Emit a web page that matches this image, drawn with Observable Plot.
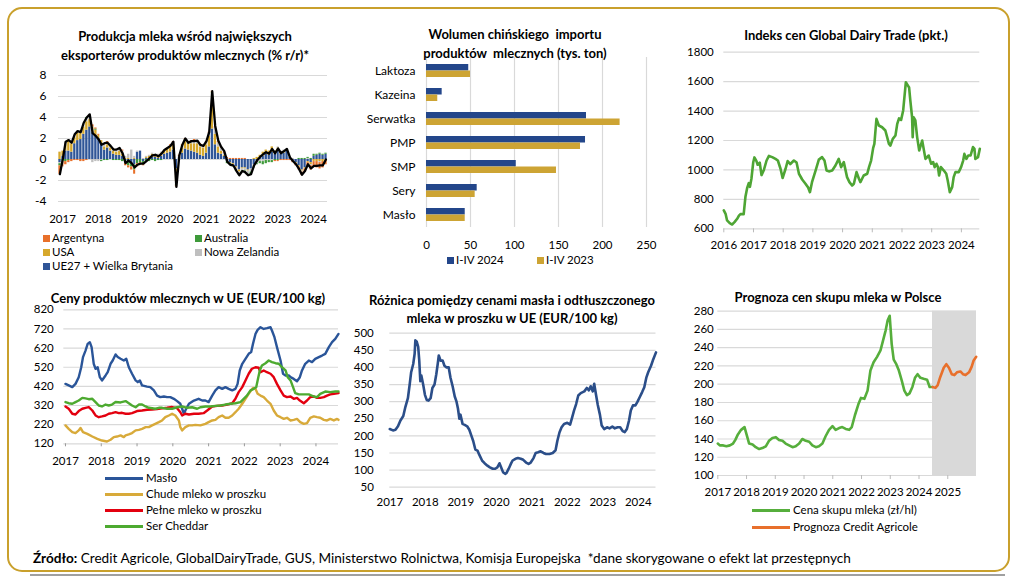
<!DOCTYPE html>
<html><head><meta charset="utf-8">
<script src="https://cdn.jsdelivr.net/npm/d3@7"></script>
<script src="https://cdn.jsdelivr.net/npm/@observablehq/plot@0.6"></script>
<style>
body{margin:0;background:#fff;font-family:Lato,'Open Sans',sans-serif;color:#000}
#page{position:relative;width:1018px;height:577px;overflow:hidden;background:#fff}
.frame{position:absolute;left:7px;top:7px;width:1003px;height:565px;border:2px solid #C9A02C;border-radius:15px;box-sizing:border-box}
.shadow{position:absolute;left:30px;top:574px;width:975px;height:2px;background:#a0a0a0}
.title{position:absolute;font-weight:bold;font-size:13px;text-align:center;line-height:19px;white-space:nowrap}
.leg{position:absolute;font-size:11.5px;line-height:14px;white-space:nowrap}
.sw{position:absolute;width:7px;height:7px}
.ln{position:absolute;height:3px}
.foot{position:absolute;left:33px;top:550px;font-size:13.6px;white-space:nowrap}
</style></head>
<body><div id="page"><div class="frame"></div><div class="shadow"></div></div>
<script>
// ---------- DATA ----------
// Panel 1: milk production y/y (%), monthly Jan 2017 - Jun 2024
const p1Series = ["UE27 + Wielka Brytania","USA","Nowa Zelandia","Australia","Argentyna"];
const p1Colors = ["#2F5597","#D6A82C","#BFBFBF","#3E9A3A","#E8702A"];
const ue27 = [-0.3,0.3,0.8,0.8,0.7,1.5,1.8,1.9,2.4,2.8,3.1,2.6,
 2.3,2.0,1.5,0.9,1.1,0.8,0.5,0.4,0.4,0.3,-0.1,-0.3,
 -0.3,-0.5,0.7,0.8,-0.2,0.1,0.1,0.2,0.2,0.1,0.3,0.5,
 0.6,0.7,0.9,-0.9,0.2,0.6,1.0,0.9,0.8,0.7,0.6,0.4,
 0.3,0.6,1.2,2.9,1.4,0.6,0.5,0.3,-0.2,-0.3,-0.4,-0.7,
 -1.0,-0.8,-0.8,-1.0,-0.9,-0.5,-0.2,0.1,0.3,0.5,0.4,0.7,
 0.5,0.8,0.5,0.6,0.8,0.2,-0.1,-0.3,-0.6,-1.0,-0.8,-0.2,
 -0.3,0.3,0.4,0.5,0.4,0.5];
const usa = [0.7,0.5,0.6,1.0,0.8,0.6,0.7,0.6,0.7,0.8,0.7,0.5,
 0.5,0.3,0.3,0.3,0.3,0.3,0.3,0.3,0.4,0.2,0.1,0.1,
 0.0,0.1,0.0,0.0,0.0,0.1,0.2,0.3,0.2,0.3,0.3,0.3,
 0.4,0.5,0.6,-1.2,0.0,0.5,0.7,0.6,0.7,0.8,0.9,0.8,
 0.8,0.8,1.0,2.4,1.0,0.6,0.3,0.1,0.0,-0.1,-0.1,-0.1,
 -0.2,-0.1,-0.1,-0.1,0.0,0.1,0.2,0.3,0.4,0.4,0.4,0.5,
 0.3,0.3,0.2,0.2,0.1,0.0,0.0,-0.1,-0.1,-0.1,-0.1,-0.1,
 -0.2,-0.2,-0.2,-0.2,-0.2,-0.1];
const nowaZelandia = [-0.1,0.0,0.2,0.1,0.1,0.2,0.2,0.1,0.3,0.3,0.2,-0.3,
 -0.2,-0.2,-0.1,0.2,0.2,0.2,0.2,0.1,0.3,0.3,0.2,0.4,
 0.9,0.2,0.1,0.0,0.1,0.1,0.1,0.1,0.1,0.1,0.1,0.1,
 0.1,0.1,0.1,-0.3,0.1,0.1,0.1,0.0,0.1,0.2,0.1,0.1,
 0.1,0.2,0.3,1.0,0.6,0.4,0.3,0.2,0.1,0.0,-0.1,-0.2,
 -0.2,-0.2,-0.2,-0.3,-0.3,-0.2,-0.2,-0.2,-0.2,-0.1,-0.1,-0.1,
 0.0,0.1,0.1,0.1,0.1,0.1,0.1,0.0,0.0,-0.1,0.0,0.1,
 -0.1,0.0,0.0,-0.1,0.0,0.0];
const australia = [-0.2,-0.2,-0.2,-0.1,0.0,0.0,0.0,0.0,0.0,0.1,0.1,0.0,
 0.1,0.0,-0.1,-0.1,-0.1,0.0,-0.1,-0.1,-0.1,-0.2,-0.3,-0.3,
 -0.4,-0.5,-0.4,-0.3,-0.3,-0.2,-0.2,-0.1,-0.2,-0.1,-0.1,0.0,
 0.0,0.0,0.0,-0.1,0.0,0.1,0.1,0.1,0.1,0.1,0.1,0.1,
 0.0,0.0,0.0,0.1,0.0,0.0,0.0,0.0,-0.2,-0.1,-0.1,-0.1,
 -0.1,-0.1,-0.1,-0.1,-0.2,-0.1,-0.1,-0.2,-0.3,-0.3,-0.2,-0.2,
 -0.1,-0.1,0.0,0.0,0.0,0.0,0.0,0.0,0.1,0.1,0.1,0.1,
 0.1,0.2,0.1,0.1,0.1,0.1];
const argentyna = [-0.8,-0.5,-0.3,-0.2,-0.2,-0.1,-0.1,-0.2,-0.2,-0.1,0.1,0.2,
 0.1,0.1,0.0,0.1,0.1,0.0,0.0,0.0,0.0,0.1,-0.2,-0.2,
 -0.3,-0.4,-0.3,-0.2,-0.1,0.0,0.0,0.0,0.0,0.0,0.0,0.0,
 0.0,0.1,0.1,-0.1,0.1,0.1,0.1,0.1,0.1,0.1,0.1,0.1,
 0.1,0.1,0.1,0.1,0.1,0.1,0.1,0.1,0.1,0.1,0.1,0.1,
 0.1,0.1,0.1,0.0,0.0,0.0,0.0,0.0,0.0,0.0,0.0,0.0,
 -0.1,-0.1,-0.1,-0.1,-0.1,-0.1,-0.2,-0.2,-0.3,-0.3,-0.3,-0.3,
 -0.4,-0.5,-0.6,-0.6,-0.6,-0.4];
const p1Total = [-1.4,0.1,1.7,1.85,1.6,2.4,2.7,2.6,3.5,4.0,4.3,2.5,
 2.25,1.9,1.4,1.55,1.6,1.3,0.95,0.95,1.1,0.6,-0.35,-0.1,
 -0.35,-0.75,-0.5,-0.4,-0.4,-0.15,0.1,0.4,0.45,0.3,0.55,0.9,
 1.1,1.3,1.7,-2.6,0.4,1.4,2.0,1.6,1.75,1.75,1.8,1.4,
 1.3,1.75,2.6,6.5,3.2,1.8,1.2,0.8,-0.2,-0.5,-0.55,-1.05,
 -1.5,-1.1,-1.2,-1.5,-1.4,-0.55,-0.1,0.25,0.5,0.7,0.55,1.0,
 0.6,1.05,0.6,0.8,1.0,0.2,-0.15,-0.45,-0.9,-1.45,-1.1,-0.45,
 -0.85,-0.6,-0.6,-0.55,-0.55,0.0];
const p1YTicks = [-4,-2,0,2,4,6,8];
const p1Years = [2017,2018,2019,2020,2021,2022,2023,2024];

// Panel 2: Chinese imports (thousand t)
const chinaCategories = ["Laktoza","Kazeina","Serwatka","PMP","SMP","Sery","Masło"];
const import2024 = [48,17.8,181.8,180.7,102,57.6,44];
const import2023 = [50,12.8,220,175,147.7,55.3,44];
const chinaTicks = [0,50,100,150,200,250];

// Panel 3: Global Dairy Trade index
const gdtYear = [2016.00,2016.06,2016.11,2016.20,2016.28,2016.36,2016.45,2016.51,2016.56,2016.67,2016.73,2016.79,2016.84,2016.88,2016.93,2016.99,
 2017.03,2017.10,2017.14,2017.21,2017.27,2017.35,2017.44,2017.52,2017.63,2017.74,2017.82,2017.91,2017.98,
 2018.08,2018.15,2018.24,2018.36,2018.45,2018.53,2018.64,2018.75,2018.84,2018.90,2018.97,
 2019.09,2019.20,2019.31,2019.39,2019.46,2019.54,2019.65,2019.76,2019.87,2019.95,
 2020.04,2020.15,2020.23,2020.32,2020.38,2020.47,2020.55,2020.60,2020.71,2020.83,2020.89,2020.96,
 2021.03,2021.07,2021.14,2021.22,2021.33,2021.44,2021.50,2021.56,2021.61,2021.69,2021.78,2021.84,2021.90,2021.97,
 2022.04,2022.13,2022.20,2022.24,2022.28,2022.34,2022.36,2022.39,2022.45,2022.51,2022.58,2022.68,2022.79,2022.90,2022.98,
 2023.05,2023.10,2023.16,2023.21,2023.25,2023.31,2023.41,2023.49,2023.54,2023.61,2023.69,2023.74,2023.80,2023.91,2023.99,
 2024.06,2024.10,2024.17,2024.23,2024.31,2024.39,2024.44,2024.47,2024.56,2024.62];
const gdtValue = [725,702,657,638,629,645,668,690,700,700,820,880,910,885,940,1050,
 1085,1060,1035,1050,965,1000,1064,1095,1087,1075,1064,1008,945,
 1008,1060,1040,1064,1050,974,935,906,880,849,917,
 996,1070,1087,1064,996,990,996,1030,1075,1019,
 1053,951,917,894,906,985,940,917,962,974,1019,1064,
 1150,1177,1347,1302,1290,1268,1223,1177,1166,1211,1234,1313,1350,1340,
 1404,1596,1573,1560,1472,1358,1223,1358,1336,1223,1132,1200,1075,1098,1042,
 1053,1019,1042,1019,962,1019,996,974,928,849,883,951,985,985,1019,
 1064,1109,1075,1098,1098,1155,1143,1075,1087,1143];
const gdtYTicks = [600,800,1000,1200,1400,1600,1800];
const gdtYears = [2016,2017,2018,2019,2020,2021,2022,2023,2024];

// Panel 4: EU dairy prices (EUR/100 kg), [year, value]
const maslo = [[2017.00,433],[2017.09,425],[2017.19,416],[2017.28,433],[2017.37,468],[2017.44,520],[2017.49,573],[2017.56,607],[2017.62,642],[2017.68,651],[2017.73,625],[2017.79,538],[2017.84,512],[2017.90,520],[2017.96,468],[2018.02,451],[2018.12,477],[2018.18,494],[2018.26,538],[2018.32,555],[2018.40,587],[2018.46,573],[2018.54,564],[2018.63,555],[2018.70,564],[2018.77,520],[2018.86,486],[2018.96,451],[2019.02,442],[2019.08,451],[2019.14,425],[2019.28,419],[2019.37,416],[2019.47,399],[2019.56,372],[2019.65,364],[2019.75,367],[2019.84,364],[2019.93,364],[2020.03,355],[2020.12,343],[2020.21,329],[2020.26,303],[2020.31,277],[2020.35,294],[2020.45,329],[2020.59,346],[2020.72,355],[2020.82,346],[2020.91,346],[2021.00,338],[2021.10,372],[2021.19,399],[2021.28,416],[2021.38,407],[2021.47,416],[2021.56,407],[2021.66,399],[2021.75,407],[2021.81,433],[2021.87,503],[2021.94,538],[2022.03,564],[2022.12,590],[2022.19,599],[2022.24,642],[2022.31,694],[2022.37,715],[2022.45,729],[2022.54,720],[2022.63,724],[2022.73,729],[2022.77,712],[2022.84,677],[2022.91,625],[2023.01,555],[2023.08,486],[2023.15,477],[2023.24,477],[2023.29,468],[2023.38,459],[2023.47,447],[2023.55,468],[2023.61,503],[2023.70,538],[2023.80,555],[2023.89,547],[2023.98,564],[2024.08,573],[2024.17,581],[2024.26,590],[2024.36,625],[2024.45,651],[2024.54,668],[2024.63,694]];
const chudeMleko = [[2017.00,216],[2017.09,198],[2017.19,181],[2017.28,176],[2017.37,190],[2017.42,203],[2017.49,181],[2017.61,172],[2017.75,158],[2017.89,146],[2018.02,137],[2018.16,132],[2018.26,141],[2018.35,155],[2018.44,158],[2018.54,164],[2018.63,155],[2018.68,164],[2018.77,169],[2018.86,176],[2018.96,190],[2019.05,193],[2019.14,198],[2019.24,207],[2019.33,207],[2019.42,216],[2019.51,224],[2019.61,233],[2019.70,242],[2019.79,259],[2019.89,268],[2019.98,277],[2020.07,268],[2020.17,242],[2020.21,207],[2020.26,190],[2020.35,207],[2020.45,216],[2020.54,216],[2020.63,219],[2020.77,216],[2020.91,224],[2021.00,233],[2021.10,242],[2021.19,245],[2021.28,259],[2021.38,268],[2021.47,256],[2021.56,256],[2021.66,268],[2021.75,285],[2021.84,303],[2021.94,329],[2022.03,355],[2022.12,381],[2022.19,399],[2022.24,412],[2022.31,407],[2022.37,381],[2022.45,372],[2022.54,364],[2022.63,346],[2022.73,329],[2022.82,294],[2022.91,268],[2023.01,259],[2023.10,250],[2023.19,256],[2023.29,242],[2023.38,245],[2023.47,250],[2023.56,233],[2023.66,224],[2023.75,228],[2023.84,256],[2023.94,263],[2024.03,259],[2024.12,256],[2024.22,245],[2024.31,242],[2024.40,250],[2024.50,242],[2024.59,250],[2024.63,245]];
const pelneMleko = [[2017.00,315],[2017.09,303],[2017.19,277],[2017.28,273],[2017.37,291],[2017.47,303],[2017.56,308],[2017.65,312],[2017.75,294],[2017.84,268],[2017.93,259],[2018.02,263],[2018.12,268],[2018.21,277],[2018.30,280],[2018.40,285],[2018.49,280],[2018.58,282],[2018.68,277],[2018.77,277],[2018.86,280],[2019.00,291],[2019.14,294],[2019.28,298],[2019.42,299],[2019.56,301],[2019.70,305],[2019.84,308],[2019.98,312],[2020.12,306],[2020.21,285],[2020.26,268],[2020.35,277],[2020.45,273],[2020.59,277],[2020.72,277],[2020.86,280],[2020.96,294],[2021.10,315],[2021.24,318],[2021.38,320],[2021.52,325],[2021.66,332],[2021.75,355],[2021.84,390],[2021.94,416],[2022.03,451],[2022.12,486],[2022.21,512],[2022.31,520],[2022.40,517],[2022.45,494],[2022.54,503],[2022.63,494],[2022.73,486],[2022.82,468],[2022.91,433],[2023.01,399],[2023.10,372],[2023.19,364],[2023.29,367],[2023.38,355],[2023.47,360],[2023.55,346],[2023.66,332],[2023.75,346],[2023.84,364],[2023.94,367],[2024.03,360],[2024.12,360],[2024.22,364],[2024.31,372],[2024.40,378],[2024.50,381],[2024.63,385]];
const serCheddar = [[2017.00,338],[2017.09,332],[2017.19,329],[2017.28,338],[2017.37,346],[2017.47,360],[2017.56,357],[2017.65,353],[2017.75,355],[2017.84,338],[2017.93,320],[2018.02,315],[2018.12,325],[2018.21,320],[2018.30,325],[2018.40,338],[2018.54,336],[2018.68,343],[2018.77,332],[2018.86,320],[2018.96,311],[2019.05,325],[2019.14,325],[2019.24,315],[2019.33,308],[2019.42,306],[2019.51,303],[2019.61,308],[2019.70,308],[2019.84,303],[2019.98,303],[2020.12,311],[2020.26,315],[2020.40,308],[2020.54,311],[2020.68,303],[2020.77,311],[2020.91,315],[2021.05,315],[2021.19,318],[2021.33,320],[2021.47,325],[2021.61,329],[2021.75,332],[2021.89,338],[2021.98,355],[2022.07,372],[2022.17,399],[2022.26,407],[2022.33,416],[2022.37,451],[2022.43,503],[2022.49,529],[2022.59,541],[2022.68,555],[2022.77,547],[2022.87,541],[2022.96,538],[2023.05,520],[2023.15,503],[2023.21,468],[2023.29,451],[2023.36,416],[2023.42,385],[2023.52,378],[2023.66,378],[2023.80,378],[2023.94,367],[2024.03,364],[2024.12,381],[2024.26,393],[2024.40,390],[2024.54,393],[2024.63,393]];
const p4Names = ["Masło","Chude mleko w proszku","Pełne mleko w proszku","Ser Cheddar"];
const p4Colors = ["#2A5599","#D8AA3A","#E3000F","#4DAA30"];
const p4YTicks = [120,220,320,420,520,620,720,820];
const p4Years = [2017,2018,2019,2020,2021,2022,2023,2024];

// Panel 5: butter - SMP spread (EUR/100 kg)
const spread = [[2017.00,220],[2017.09,216],[2017.16,218],[2017.23,228],[2017.30,245],[2017.38,258],[2017.44,285],[2017.51,310],[2017.56,350],[2017.60,385],[2017.66,410],[2017.70,440],[2017.72,479],[2017.76,475],[2017.80,460],[2017.83,420],[2017.86,360],[2017.89,376],[2017.94,350],[2017.99,320],[2018.04,305],[2018.09,303],[2018.15,310],[2018.20,340],[2018.26,350],[2018.31,380],[2018.35,410],[2018.38,435],[2018.43,420],[2018.49,420],[2018.54,405],[2018.60,400],[2018.66,400],[2018.71,370],[2018.77,345],[2018.83,315],[2018.88,300],[2018.92,280],[2018.96,250],[2018.99,262],[2019.05,235],[2019.11,232],[2019.18,228],[2019.24,218],[2019.30,200],[2019.35,185],[2019.41,160],[2019.47,157],[2019.52,145],[2019.60,128],[2019.67,120],[2019.75,113],[2019.82,108],[2019.90,104],[2019.97,104],[2020.03,108],[2020.09,120],[2020.13,110],[2020.19,94],[2020.25,89],[2020.29,92],[2020.35,104],[2020.41,118],[2020.46,128],[2020.54,133],[2020.61,135],[2020.69,133],[2020.76,130],[2020.84,122],[2020.91,118],[2020.97,122],[2021.05,135],[2021.11,150],[2021.18,152],[2021.25,155],[2021.33,150],[2021.40,147],[2021.50,147],[2021.59,150],[2021.67,158],[2021.72,185],[2021.78,210],[2021.84,225],[2021.91,235],[2022.00,238],[2022.08,233],[2022.14,255],[2022.19,274],[2022.25,293],[2022.31,318],[2022.38,325],[2022.48,330],[2022.55,340],[2022.61,333],[2022.66,345],[2022.72,330],[2022.76,352],[2022.81,320],[2022.86,290],[2022.92,262],[2022.97,230],[2023.04,220],[2023.12,225],[2023.19,222],[2023.27,227],[2023.34,222],[2023.42,225],[2023.49,225],[2023.56,214],[2023.62,211],[2023.68,220],[2023.74,245],[2023.79,274],[2023.85,289],[2023.92,289],[2023.98,300],[2024.04,313],[2024.11,328],[2024.17,342],[2024.23,371],[2024.28,386],[2024.36,405],[2024.41,420],[2024.50,444]];
const spreadYTicks = [50,100,150,200,250,300,350,400,450,500];
const spreadYears = [2017,2018,2019,2020,2021,2022,2023,2024];

// Panel 6: Polish milk purchase price (PLN/hl) and forecast
const cenaSkupu = [[2017.00,135],[2017.07,133],[2017.19,133],[2017.30,132],[2017.42,133],[2017.53,135],[2017.61,139],[2017.70,145],[2017.81,150],[2017.93,153],[2018.00,145],[2018.09,135],[2018.21,134],[2018.32,131],[2018.44,129],[2018.55,130],[2018.67,132],[2018.78,138],[2018.90,141],[2019.02,142],[2019.13,139],[2019.25,138],[2019.36,135],[2019.48,133],[2019.60,131],[2019.71,132],[2019.83,135],[2019.94,140],[2020.06,138],[2020.18,137],[2020.29,133],[2020.41,131],[2020.52,132],[2020.64,135],[2020.75,143],[2020.87,150],[2020.99,154],[2021.10,150],[2021.22,152],[2021.33,153],[2021.45,151],[2021.57,150],[2021.66,153],[2021.77,166],[2021.89,178],[2021.98,185],[2022.10,184],[2022.21,193],[2022.31,215],[2022.42,224],[2022.54,230],[2022.66,237],[2022.75,248],[2022.84,259],[2022.91,270],[2022.98,275],[2023.05,244],[2023.12,227],[2023.21,222],[2023.30,215],[2023.40,204],[2023.49,193],[2023.58,188],[2023.67,190],[2023.77,197],[2023.86,207],[2023.95,211],[2024.05,207],[2024.16,206],[2024.28,205],[2024.37,197],[2024.47,197]];
const prognoza = [[2024.47,197],[2024.57,196],[2024.65,199],[2024.74,208],[2024.86,218],[2024.95,222],[2025.04,218],[2025.14,211],[2025.23,210],[2025.32,213],[2025.44,214],[2025.53,211],[2025.62,210],[2025.74,213],[2025.83,219],[2025.90,226],[2025.99,230]];
const forecastPeriod = [{start: 2024.47, end: 2026}];
const p6YTicks = [100,120,140,160,180,200,220,240,260,280];
const p6Years = [2017,2018,2019,2020,2021,2022,2023,2024,2025];

// ---------- HELPERS ----------
const page = document.getElementById("page");
const FONT = "Lato, 'Open Sans', sans-serif";
const GRID = "#d9d9d9";
const baseStyle = {fontFamily: FONT, fontSize: "11px", color: "#000", background: "transparent", overflow: "visible"};
function place(el, left, top){ el.style.position="absolute"; el.style.left=left+"px"; el.style.top=top+"px"; page.appendChild(el); }
function title(lines, cx, top, lh){
  const d=document.createElement("div"); d.className="title";
  d.style.width="400px"; d.style.left=(cx-200)+"px"; d.style.top=top+"px"; if(lh) d.style.lineHeight=lh+"px";
  d.innerHTML=lines.join("<br>"); page.appendChild(d);
}
function legSwatch(text, color, x, cy){
  const s=document.createElement("div"); s.className="sw"; s.style.background=color; s.style.left=x+"px"; s.style.top=(cy-3.5)+"px"; page.appendChild(s);
  const t=document.createElement("div"); t.className="leg"; t.textContent=text; t.style.left=(x+9)+"px"; t.style.top=(cy-7.5)+"px"; page.appendChild(t);
}
function legLine(text, color, x1, x2, cy){
  const s=document.createElement("div"); s.className="ln"; s.style.background=color; s.style.left=x1+"px"; s.style.width=(x2-x1)+"px"; s.style.top=(cy-1.5)+"px"; page.appendChild(s);
  const t=document.createElement("div"); t.className="leg"; t.textContent=text; t.style.left=(x2+3)+"px"; t.style.top=(cy-7.5)+"px"; page.appendChild(t);
}
const fmtNum = d => String(d);

// ---------- PANEL 1 ----------
const months = d3.utcMonth.range(new Date(Date.UTC(2017,0,1)), new Date(Date.UTC(2024,6,1)));
const p1Arrays = [ue27, usa, nowaZelandia, australia, argentyna];
const p1Rows = p1Series.flatMap((s,k)=>months.map((d,i)=>({date:d, value:p1Arrays[k][i], series:s})));
const p1Line = months.map((d,i)=>({date:d3.utcDay.offset(d,14), value:p1Total[i]}));
const p1 = Plot.plot({
  width:340, height:175, marginLeft:58, marginRight:13, marginTop:15, marginBottom:34,
  style: baseStyle,
  x:{type:"utc", domain:[new Date(Date.UTC(2017,0,1)), new Date(Date.UTC(2024,6,1))]},
  y:{domain:[-4,8]},
  color:{domain:p1Series, range:p1Colors},
  marks:[
    Plot.ruleY(p1YTicks,{stroke:GRID, strokeWidth:1.2}),
    Plot.rectY(p1Rows,{x:"date", interval:d3.utcMonth, y:"value", fill:"series", order:p1Series, insetLeft:0.35, insetRight:0.35}),
    Plot.line(p1Line,{x:"date", y:"value", stroke:"#000", strokeWidth:2.3}),
    Plot.axisY({ticks:p1YTicks, tickFormat:fmtNum, tickSize:0, tickPadding:12, label:null, fontSize:12}),
    Plot.axisX({ticks:p1Years.map(y=>new Date(Date.UTC(y,0,1))), tickFormat:"%Y", tickSize:0, tickPadding:13, dx:4, label:null, fontSize:11.5})
  ]
});
place(p1,0,60);
title(["Produkcja mleka wśród największych","eksporterów produktów mlecznych (% r/r)*"],185,26.5,19);
legSwatch("Argentyna","#E8702A",43,238);
legSwatch("Australia","#3E9A3A",195,238);
legSwatch("USA","#D6A82C",43,252);
legSwatch("Nowa Zelandia","#BFBFBF",195,252);
legSwatch("UE27 + Wielka Brytania","#2F5597",43,266);

// ---------- PANEL 2 ----------
const p2 = Plot.plot({
  width:340, height:205, marginLeft:86, marginRight:34, marginTop:7, marginBottom:28,
  style: baseStyle,
  x:{domain:[0,250]},
  y:{domain:chinaCategories, paddingInner:0.466, paddingOuter:0.233},
  marks:[
    Plot.ruleX(chinaTicks,{stroke:GRID, strokeWidth:1.2}),
    Plot.barX(chinaCategories,{y:d=>d, x:(d,i)=>import2024[i], fill:"#23468A", insetBottom:6.5}),
    Plot.barX(chinaCategories,{y:d=>d, x:(d,i)=>import2023[i], fill:"#CDA434", insetTop:6.5}),
    Plot.axisX({ticks:chinaTicks, tickFormat:fmtNum, tickSize:0, tickPadding:13, label:null, fontSize:11.5}),
    Plot.axisY({tickSize:0, tickPadding:11, label:null, fontSize:12})
  ]
});
place(p2,340,50);
title(["Wolumen chińskiego&nbsp; importu","produktów&nbsp; mlecznych (tys. ton)"],515,24.5,19);
legSwatch("I-IV 2024","#23468A",447,260);
legSwatch("I-IV 2023","#CDA434",537,260);

// ---------- PANEL 3 ----------
const gdtRows = gdtYear.map((y,i)=>({year:y, value:gdtValue[i]}));
const p3 = Plot.plot({
  width:338, height:220, marginLeft:43.3, marginRight:38.7, marginTop:11.7, marginBottom:31.7,
  style: baseStyle,
  x:{domain:[2016, 2024.62]},
  y:{domain:[600,1800]},
  marks:[
    Plot.ruleY(gdtYTicks,{stroke:GRID, strokeWidth:1.2}),
    Plot.line(gdtRows,{x:"year", y:"value", stroke:"#4EA534", strokeWidth:2.6}),
    Plot.axisY({ticks:gdtYTicks, tickFormat:fmtNum, tickSize:0, tickPadding:10, label:null, fontSize:11.5}),
    Plot.axisX({ticks:gdtYears, tickFormat:fmtNum, tickSize:4, tickPadding:8, stroke:"#bbb", label:null, fontSize:11.5})
  ]
});
place(p3,680,40);
title(["Indeks cen Global Dairy Trade (pkt.)"],846,25.5);

// ---------- PANEL 4 ----------
const p4Data = [maslo, chudeMleko, pelneMleko, serCheddar];
const p4 = Plot.plot({
  width:340, height:170, marginLeft:63.3, marginRight:2, marginTop:9.3, marginBottom:26.7,
  style: baseStyle,
  x:{domain:[2016.953, 2024.63]},
  y:{domain:[120,820]},
  marks:[
    Plot.ruleY(p4YTicks,{stroke:GRID, strokeWidth:1.2}),
    ...p4Data.map((s,k)=>Plot.line(s,{x:d=>d[0], y:d=>d[1], stroke:p4Colors[k], strokeWidth:2.4})),
    Plot.axisY({ticks:p4YTicks, tickFormat:fmtNum, tickSize:0, tickPadding:10, label:null, fontSize:11.5}),
    Plot.axisX({ticks:p4Years, tickFormat:fmtNum, tickSize:3, tickPadding:10, stroke:"#999", label:null, fontSize:11.5})
  ]
});
place(p4,0,300);
title(["Ceny produktów mlecznych w UE (EUR/100 kg)"],188,288.5);
p4Names.forEach((n,k)=>legLine(n,p4Colors[k],105,143,478+k*16.2));

// ---------- PANEL 5 ----------
const p5 = Plot.plot({
  width:340, height:190, marginLeft:49.3, marginRight:24.5, marginTop:7.7, marginBottom:28.3,
  style: baseStyle,
  x:{domain:[2017, 2024.5]},
  y:{domain:[50,500]},
  marks:[
    Plot.ruleY(spreadYTicks,{stroke:GRID, strokeWidth:1.2}),
    Plot.line(spread,{x:d=>d[0], y:d=>d[1], stroke:"#2B4E89", strokeWidth:2.6}),
    Plot.axisY({ticks:spreadYTicks, tickFormat:fmtNum, tickSize:0, tickPadding:16, label:null, fontSize:11.5}),
    Plot.axisX({ticks:spreadYears, tickFormat:fmtNum, tickSize:0, tickPadding:11, label:null, fontSize:11.5})
  ]
});
place(p5,340,325);
title(["Różnica pomiędzy cenami masła i odtłuszczonego","mleka w proszku w UE (EUR/100 kg)"],512,290.5,18);

// ---------- PANEL 6 ----------
const p6 = Plot.plot({
  width:338, height:200, marginLeft:37.3, marginRight:42, marginTop:10.7, marginBottom:25,
  style: baseStyle,
  x:{domain:[2017, 2026]},
  y:{domain:[100,280]},
  marks:[
    Plot.ruleY(p6YTicks,{stroke:GRID, strokeWidth:1.2}),
    Plot.rect(forecastPeriod,{x1:"start", x2:"end", fill:"#d9d9d9"}),
    Plot.line(cenaSkupu,{x:d=>d[0], y:d=>d[1], stroke:"#56AE3C", strokeWidth:2.6}),
    Plot.line(prognoza,{x:d=>d[0], y:d=>d[1], stroke:"#E8702C", strokeWidth:2.6}),
    Plot.axisY({ticks:p6YTicks, tickFormat:fmtNum, tickSize:0, tickPadding:4, label:null, fontSize:11.5}),
    Plot.axisX({ticks:p6Years, tickFormat:fmtNum, tickSize:4, tickPadding:8, stroke:"#bbb", label:null, fontSize:11.5})
  ]
});
place(p6,680,300);
title(["Prognoza cen skupu mleka w Polsce"],838,287.5);
legLine("Cena skupu mleka (zł/hl)","#56AE3C",752,790,510);
legLine("Prognoza Credit Agricole","#E8702C",752,790,527);

// ---------- FOOTER ----------
const f=document.createElement("div"); f.className="foot";
f.innerHTML="<b>Źródło:</b> Credit Agricole, GlobalDairyTrade, GUS, Ministerstwo Rolnictwa, Komisja Europejska&nbsp; *dane skorygowane o efekt lat przestępnych";
page.appendChild(f);
</script>
</body></html>
